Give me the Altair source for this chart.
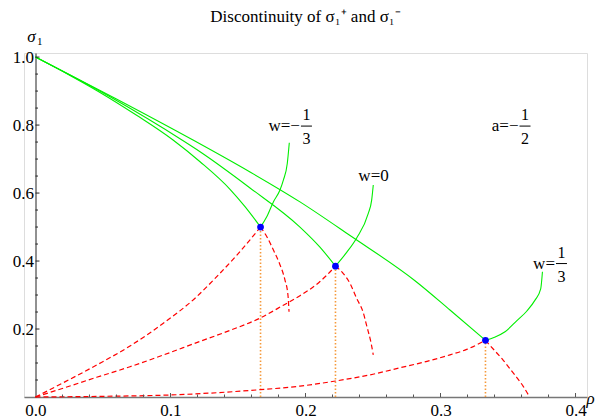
import altair as alt
import pandas as pd

# ---------------- data ----------------
# sigma_1^+ (green) : branch from (0,1) down to the cusp
UP_M13_RHO = [0.0, 0.0256, 0.0478, 0.0752, 0.1019, 0.1219, 0.1441, 0.1552, 0.1667]
UP_M13_SIG = [1.0, 0.946, 0.896, 0.828, 0.756, 0.692, 0.611, 0.560, 0.5]
UP_0_RHO = [0.0, 0.0552, 0.1085, 0.1219, 0.1589, 0.1959, 0.2107, 0.2222]
UP_0_SIG = [1.0, 0.883, 0.756, 0.7215, 0.615, 0.50, 0.441, 0.385]
UP_P13_RHO = [0.0, 0.0589, 0.1167, 0.1589, 0.1959, 0.2330, 0.2811, 0.3070, 0.3333]
UP_P13_SIG = [1.0, 0.879, 0.756, 0.662, 0.574, 0.475, 0.342, 0.256, 0.1667]

# green branch from the cusp upward
AS_M13_RHO = [0.1667, 0.1713, 0.1762, 0.1811, 0.1836, 0.1865, 0.1880]
AS_M13_SIG = [0.5, 0.530, 0.574, 0.609, 0.638, 0.687, 0.748]
AS_0_RHO = [0.2222, 0.2305, 0.2379, 0.2465, 0.2490, 0.2502]
AS_0_SIG = [0.385, 0.4255, 0.468, 0.540, 0.579, 0.6235]
AS_P13_RHO = [0.3333, 0.3400, 0.3478, 0.3564, 0.3640, 0.3700, 0.3742, 0.3755]
AS_P13_SIG = [0.1667, 0.176, 0.192, 0.224, 0.253, 0.285, 0.318, 0.3685]

# sigma_1^- (red dashed) : from origin up to the cusp
RU_M13_RHO = [0.0, 0.0206, 0.0453, 0.0700, 0.0947, 0.1194, 0.1330, 0.1500, 0.1667]
RU_M13_SIG = [0.0, 0.042, 0.094, 0.150, 0.217, 0.295, 0.349, 0.421, 0.5]
RU_0_RHO = [0.0, 0.0206, 0.0453, 0.0700, 0.0947, 0.1194, 0.1441, 0.1663, 0.1836, 0.1959, 0.2100, 0.2222]
RU_0_SIG = [0.0, 0.026, 0.058, 0.089, 0.1235, 0.160, 0.196, 0.232, 0.270, 0.298, 0.337, 0.385]
RU_P13_RHO = [0.0, 0.05, 0.10, 0.14, 0.1663, 0.1959, 0.2222, 0.25, 0.27, 0.29, 0.307, 0.3194, 0.3333]
RU_P13_SIG = [0.0, 0.002, 0.006, 0.014, 0.0215, 0.032, 0.047, 0.067, 0.086, 0.105, 0.124, 0.140, 0.1667]

# red dashed branch from the cusp downward
RD_M13_RHO = [0.1667, 0.1713, 0.1765, 0.1810, 0.1848, 0.1870, 0.1878]
RD_M13_SIG = [0.5, 0.472, 0.430, 0.390, 0.344, 0.300, 0.251]
RD_0_RHO = [0.2222, 0.2280, 0.2330, 0.2379, 0.2428, 0.2453, 0.2485, 0.2502]
RD_0_SIG = [0.385, 0.363, 0.334, 0.290, 0.248, 0.210, 0.160, 0.124]
RD_P13_RHO = [0.3333, 0.3400, 0.3465, 0.3520, 0.3564, 0.3615, 0.3660]
RD_P13_SIG = [0.1667, 0.137, 0.108, 0.080, 0.058, 0.030, 0.0]

# cusps
CUSP_RHO = [0.1667, 0.2222, 0.3333]
CUSP_SIG = [0.5, 0.385, 0.1667]

# axis ticks
X_TICKS = [0.0, 0.1, 0.2, 0.3, 0.4]
X_MINOR = [0.02, 0.04, 0.06, 0.08, 0.12, 0.14, 0.16, 0.18, 0.22, 0.24, 0.26, 0.28,
           0.32, 0.34, 0.36, 0.38]
Y_TICKS = [0.2, 0.4, 0.6, 0.8, 1.0]
Y_MINOR = [0.05, 0.1, 0.15, 0.25, 0.3, 0.35, 0.45, 0.5, 0.55, 0.65, 0.7, 0.75,
           0.85, 0.9, 0.95]

# texts
TITLE = "Discontinuity of \u03c3\u2081\u207a and \u03c3\u2081\u207b"
FRAC_PREFIX = ["w=\u2212", "a=\u2212", "w="]
FRAC_NUM = ["1", "1", "1"]
FRAC_DEN = ["3", "2", "3"]
PLAIN_LABEL = ["w=0"]

# ---------------- layout constants ----------------
FRAC_X = [0.2007, 0.3626, 0.3896]
FRAC_Y = [0.797, 0.797, 0.3926]
PLAIN_X = [0.2504]
PLAIN_Y = [0.6515]
TITLE_X, TITLE_Y = 0.2, 1.103
SERIF = "Liberation Serif, Times New Roman, Times, serif"

pieces = [
    ("up_m13", "green", UP_M13_RHO, UP_M13_SIG),
    ("up_0", "green", UP_0_RHO, UP_0_SIG),
    ("up_p13", "green", UP_P13_RHO, UP_P13_SIG),
    ("as_m13", "green", AS_M13_RHO, AS_M13_SIG),
    ("as_0", "green", AS_0_RHO, AS_0_SIG),
    ("as_p13", "green", AS_P13_RHO, AS_P13_SIG),
    ("ru_m13", "red", RU_M13_RHO, RU_M13_SIG),
    ("ru_0", "red", RU_0_RHO, RU_0_SIG),
    ("ru_p13", "red", RU_P13_RHO, RU_P13_SIG),
    ("rd_m13", "red", RD_M13_RHO, RD_M13_SIG),
    ("rd_0", "red", RD_0_RHO, RD_0_SIG),
    ("rd_p13", "red", RD_P13_RHO, RD_P13_SIG),
]
rows = []
for name, kind, xs, ys in pieces:
    for i, (x, y) in enumerate(zip(xs, ys)):
        rows.append({"piece": name, "kind": kind, "rho": x, "sigma": y, "i": i})
curves = pd.DataFrame(rows)
green_df = curves[curves.kind == "green"]
red_df = curves[curves.kind == "red"]

cusps = pd.DataFrame({"rho": CUSP_RHO, "sigma": CUSP_SIG, "zero": [0.0] * 3})

XMAJ_LEN = 4 / 340
XMIN_LEN = 2.5 / 340
YMAJ_LEN = 4 / 1350
YMIN_LEN = 2.5 / 1350
xt = pd.DataFrame({"x": X_TICKS[1:] + X_MINOR,
                   "y0": 0.0,
                   "y1": [XMAJ_LEN] * (len(X_TICKS) - 1) + [XMIN_LEN] * len(X_MINOR)})
yt = pd.DataFrame({"y": Y_TICKS + Y_MINOR,
                   "x0": 0.0,
                   "x1": [YMAJ_LEN] * len(Y_TICKS) + [YMIN_LEN] * len(Y_MINOR)})

frac = pd.DataFrame({"x": FRAC_X, "y": FRAC_Y, "pre": FRAC_PREFIX,
                     "num": FRAC_NUM, "den": FRAC_DEN})
frac["xa"] = frac["x"] - 5.5 / 1350
frac["xb"] = frac["x"] + 5.5 / 1350
plain = pd.DataFrame({"x": PLAIN_X, "y": PLAIN_Y, "t": PLAIN_LABEL})

xscale = alt.Scale(domain=[-0.0085, 0.4085], nice=False, zero=False)
yscale = alt.Scale(domain=[0.0, 1.012], nice=False, zero=False)
xaxis = alt.Axis(values=X_TICKS, format=".1f", ticks=False, tickSize=0, grid=False,
                 domainColor="#777777", domainWidth=1.3, labelFont=SERIF,
                 labelFontSize=17, labelColor="black", labelPadding=5, title=None,
                 labelFlush=False, labelOverlap=False)
yaxis = alt.Axis(values=Y_TICKS, format=".1f", ticks=False, tickSize=0, grid=False,
                 offset=-11.5, domainColor="#222222", domainWidth=1, labelFont=SERIF,
                 labelFontSize=17, labelColor="black", labelPadding=2, title=None,
                 labelFlush=False, labelOverlap=False)


def X(field):
    return alt.X(field, type="quantitative", scale=xscale, axis=xaxis)


def Y(field):
    return alt.Y(field, type="quantitative", scale=yscale, axis=yaxis)


def txt(df, size, field="t", **kw):
    return alt.Chart(df).mark_text(font=SERIF, fontSize=size, color="black", **kw).encode(
        x=X("x"), y=Y("y"), text=f"{field}:N")


green = alt.Chart(green_df).mark_line(color="#00ee00", strokeWidth=1.1,
                                      interpolate="monotone").encode(
    x=X("rho"), y=Y("sigma"), detail="piece:N", order="i:Q")
red = alt.Chart(red_df).mark_line(color="#ff0000", strokeWidth=1.2, strokeDash=[5, 3],
                                  interpolate="monotone").encode(
    x=X("rho"), y=Y("sigma"), detail="piece:N", order="i:Q")
orange = alt.Chart(cusps).mark_rule(color="#f59a3c", strokeWidth=1.6,
                                    strokeDash=[1.5, 2]).encode(
    x=X("rho"), y=Y("zero"), y2="sigma")
dots = alt.Chart(cusps).mark_circle(color="#0000ff", opacity=1, size=46).encode(
    x=X("rho"), y=Y("sigma"))

xticks = alt.Chart(xt).mark_rule(color="#555555", strokeWidth=1).encode(
    x=X("x"), y=Y("y0"), y2="y1")
yticks = alt.Chart(yt).mark_rule(color="#222222", strokeWidth=1).encode(
    x=X("x0"), x2="x1", y=Y("y"))

pre = txt(frac, 17, "pre", align="right", baseline="middle", dx=-6.5)
num = txt(frac, 16, "num", align="center", baseline="middle", dy=-11)
den = txt(frac, 16, "den", align="center", baseline="middle", dy=13)
bar = alt.Chart(frac).mark_rule(color="black", strokeWidth=1).encode(
    x=X("xa"), x2="xb", y=Y("y"))
plain_t = txt(plain, 17, align="center", baseline="middle")

title_t = txt(pd.DataFrame({"x": [TITLE_X], "y": [TITLE_Y], "t": [TITLE]}), 17,
              align="center", baseline="alphabetic")
ylab_t = txt(pd.DataFrame({"x": [-0.003], "y": [1.044], "t": ["\u03c3"]}), 17,
             align="center", baseline="alphabetic", fontStyle="italic")
ysub_t = txt(pd.DataFrame({"x": [0.0011], "y": [1.035], "t": ["1"]}), 11,
             align="left", baseline="alphabetic")
xlab_t = txt(pd.DataFrame({"x": [0.4111], "y": [-0.0195], "t": ["\u03c1"]}), 17,
             align="center", baseline="alphabetic", fontStyle="italic")

chart = alt.layer(
    orange, red, green, dots, xticks, yticks, pre, num, den, bar, plain_t,
    title_t, ylab_t, ysub_t, xlab_t
).properties(
    width=563, height=344,
    autosize=alt.AutoSizeParams(type="none"),
    padding={"left": 16, "top": 45, "right": 9, "bottom": 21},
).configure_view(stroke=None).configure(background="white")

chart.save("out.html", embed_options={"renderer": "svg", "actions": False})
